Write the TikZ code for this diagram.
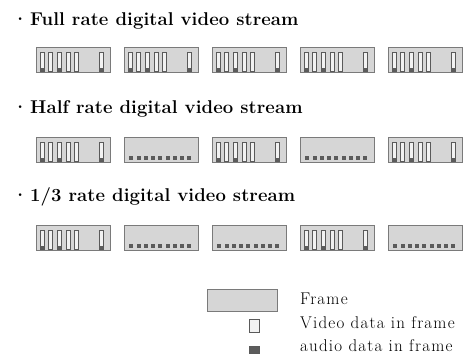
\documentclass[tikz,border=0pt]{standalone}
\usepackage{fontspec}
\setmainfont{Latin Modern Roman}

\definecolor{framefill}{HTML}{D6D6D6}
\definecolor{framedraw}{HTML}{7A7A7A}
\definecolor{barfill}{HTML}{F2F2F2}
\definecolor{bardraw}{HTML}{5A5A5A}
\definecolor{audiofill}{HTML}{5C5C5C}

\tikzset{
  frame/.style={draw=framedraw, fill=framefill, line width=0.8pt, minimum width=74pt, minimum height=25pt, inner sep=0pt},
  vbar/.style={draw=bardraw, fill=barfill, line width=0.7pt},
  abit/.style={draw=bardraw, fill=audiofill, line width=0.5pt},
  title/.style={anchor=base west, inner sep=0pt, font=\fontsize{18.5}{22}\selectfont\bfseries\addfontfeature{LetterSpace=0.5}},
  legend/.style={anchor=base west, inner sep=0pt, font=\fontsize{17}{20}\selectfont\addfontfeature{LetterSpace=7}},
  vframe/.pic={
    \node[frame] (-box) at (0,0) {};
    \foreach \k in {0,...,4}
      \draw[vbar] (-33+8.7*\k,-8) rectangle (-29+8.7*\k,11);
    \draw[vbar] (26,-8) rectangle (30,11);
    \foreach \c in {-31,-13.6,28}
      \fill[audiofill] (\c-1.6,7.5) rectangle (\c+1.6,10.6);
  },
  aframe/.pic={
    \node[frame] (-box) at (0,0) {};
    \foreach \k in {0,...,8}
      \draw[abit] (-31.5+7.25*\k,6.3) rectangle (-28.5+7.25*\k,9.3);
  }
}

\begin{document}
\begin{tikzpicture}[x=1pt, y=-1pt]
\useasboundingbox (0,0) rectangle (468,354);

\node[title] (full) at (12,25) {\makebox[18pt][l]{·}Full rate digital video stream};
\node[title] (half) at (12,113) {\makebox[18pt][l]{·}Half rate digital video stream};
\node[title] (third) at (12,201) {\makebox[18pt][l]{·}1/3 rate digital video stream};

\foreach \t [count=\i] in {v,v,v,v,v}
  \pic (full\i) at ({73+88*(\i-1)},60) {\t frame};
\foreach \t [count=\i] in {v,a,v,a,v}
  \pic (half\i) at ({73+88*(\i-1)},150) {\t frame};
\foreach \t [count=\i] in {v,a,a,v,a}
  \pic (third\i) at ({73+88*(\i-1)},238) {\t frame};

\node[frame, minimum width=70pt, minimum height=22pt] (keyframe) at (242,300) {};
\node[draw=bardraw, fill=barfill, line width=0.7pt, minimum width=10pt, minimum height=13pt, inner sep=0pt] (keyvideo) at (254,325.5) {};
\node[abit, minimum width=10pt, minimum height=7pt, inner sep=0pt] (keyaudio) at (254,349.5) {};
\node[legend] (keyframetext) at (300,304) {Frame};
\node[legend] (keyvideotext) at (300,328) {Video data in frame};
\node[legend] (keyaudiotext) at (300,351) {audio data in frame};
\end{tikzpicture}
\end{document}
